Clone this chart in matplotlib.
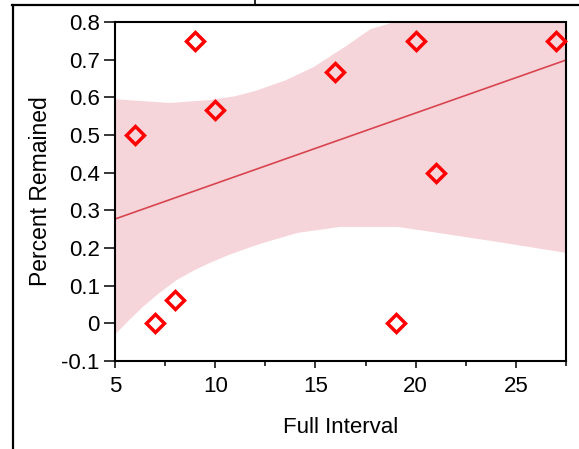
import numpy as np
import matplotlib
matplotlib.use('Agg')
import matplotlib.pyplot as plt
from matplotlib.lines import Line2D

plt.rcParams['font.family'] = ['Liberation Sans', 'DejaVu Sans']

# samples
interval = [6, 7, 8, 9, 10, 16, 19, 20, 21, 27]
remained = [0.5, 0.0, 0.0625, 0.75, 0.5667, 0.6667, 0.0, 0.75, 0.4, 0.75]

# fitted line
fit_x = [5, 27.5]
fit_y = [0.277, 0.699]

# confidence band, upper and lower edge
band_up_x = [5, 7.75, 9.75, 11, 12, 13.5, 14.9, 16.5, 17.75, 18.75, 20, 24, 27.5]
band_up_y = [0.595, 0.585, 0.593, 0.603, 0.617, 0.645, 0.68, 0.735, 0.781, 0.797, 0.81, 0.84, 0.86]
band_lo_x = [5, 5.7, 6.42, 7.2, 8.08, 9.0, 9.75, 10.75, 11.75, 12.4, 14.1, 16.25, 19.1, 20.75, 24.1, 27.5]
band_lo_y = [-0.03, 0.008, 0.045, 0.08, 0.115, 0.142, 0.161, 0.183, 0.202, 0.2135, 0.24, 0.256, 0.256, 0.243, 0.216, 0.187]

xticks = [5, 10, 15, 20, 25]
yticks = [-0.1, 0, 0.1, 0.2, 0.3, 0.4, 0.5, 0.6, 0.7, 0.8]
ytick_labels = ['-0.1', '0', '0.1', '0.2', '0.3', '0.4', '0.5', '0.6', '0.7', '0.8']

fig = plt.figure(figsize=(5.79, 4.49), dpi=100)
ax = fig.add_axes([115 / 579, 88 / 449, 451 / 579, 339 / 449])

# band: upper edge then lower edge reversed
poly_x = band_up_x + band_lo_x[::-1]
poly_y = band_up_y + band_lo_y[::-1]
ax.fill(poly_x, poly_y, color='#f6d5da', lw=0, zorder=1)

ax.plot(fit_x, fit_y, color='#d8444f', lw=1.2, zorder=2)
ax.plot(interval, remained, ls='none', marker='D', ms=9.5, mfc='none',
        mec='#ff0000', mew=2.5, zorder=3, clip_on=False)

ax.set_xlim(5, 27.5)
ax.set_ylim(-0.1, 0.8)
ax.set_xticks(xticks)
ax.set_xticks(np.arange(7.5, 28, 5), minor=True)
ax.set_yticks(yticks)
ax.set_yticklabels(ytick_labels)

ax.tick_params(axis='y', which='major', direction='out', length=8, width=1.1,
               labelsize=16, pad=3)
ax.tick_params(axis='x', which='major', direction='out', length=5, width=1.1,
               labelsize=16, pad=6)
ax.tick_params(axis='x', which='minor', direction='out', length=3.6, width=1.1)

for s in ax.spines.values():
    s.set_linewidth(1.5)

ax.set_xlabel('Full Interval', fontsize=16, labelpad=14)
ax.set_ylabel('Percent Remained', fontsize=16.5, labelpad=7)

# outer frame of the page
fig.add_artist(Line2D([12 / 579, 1], [1 - 4.5 / 449, 1 - 4.5 / 449], color='black', lw=1.6))
fig.add_artist(Line2D([12.5 / 579, 12.5 / 579], [0, 1 - 4.5 / 449], color='black', lw=1.6))
fig.add_artist(Line2D([255 / 579, 255 / 579], [1 - 4.5 / 449, 1], color='black', lw=1.2))

fig.savefig('out.png', dpi=100)
